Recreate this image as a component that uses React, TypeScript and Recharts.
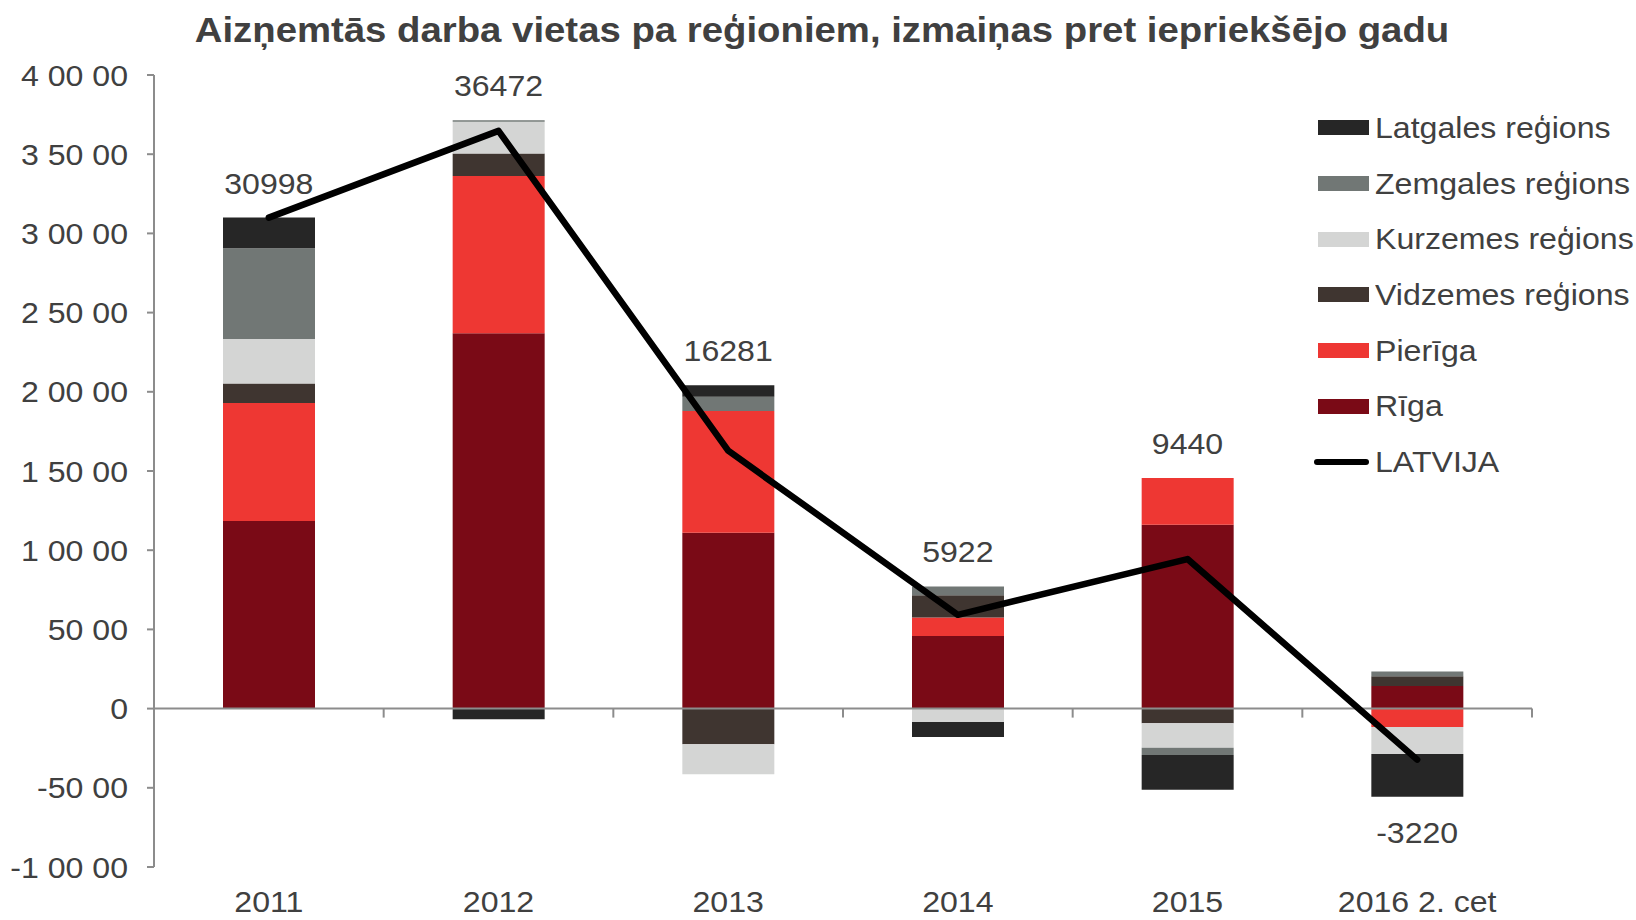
import React from "react"
import * as Recharts from "recharts"
import { ComposedChart, Bar, Line, XAxis, YAxis, ReferenceLine, LabelList } from "recharts"

const categories = ["2011", "2012", "2013", "2014", "2015", "2016 2. cet"]
const riga = [11850, 23700, 11100, 4590, 11600, 1420]
const pieriga = [7440, 9930, 7680, 1160, 2960, -1160]
const vidzeme = [1230, 1420, -2250, 1410, -920, 620]
const kurzeme = [2820, 2000, -1890, -840, -1550, -1700]
const zemgale = [5720, 100, 910, 550, -460, 300]
const latgale = [1940, -680, 730, -950, -2190, -2700]
const latvija = [30998, 36472, 16281, 5922, 9440, -3220]
const yTicks = [-10000, -5000, 0, 5000, 10000, 15000, 20000, 25000, 30000, 35000, 40000]

const series = [
  { key: "riga", name: "Rīga", color: "#7a0a16", values: riga },
  { key: "pieriga", name: "Pierīga", color: "#ee3733", values: pieriga },
  { key: "vidzeme", name: "Vidzemes reģions", color: "#3f3530", values: vidzeme },
  { key: "kurzeme", name: "Kurzemes reģions", color: "#d4d5d4", values: kurzeme },
  { key: "zemgale", name: "Zemgales reģions", color: "#717775", values: zemgale },
  { key: "latgale", name: "Latgales reģions", color: "#262626", values: latgale },
]

const data = categories.map((cat, i) => {
  const row: any = { cat, latvija: latvija[i] }
  let pos = 0
  let neg = 0
  series.forEach((s) => {
    row[s.key] = s.values[i]
    if (s.values[i] >= 0) pos += s.values[i]
    else neg += s.values[i]
  })
  // where the total label sits: end of the stack on the side of the total
  row.labelAt = latvija[i] >= 0 ? pos : neg
  return row
})

const FONT = "'Liberation Sans', Arial, sans-serif"
const TEXT = "#404040"
const STRETCH = 1.07

const formatTick = (v: number) => {
  if (v === 0) return "0"
  const s = String(Math.abs(v))
  const parts: string[] = []
  for (let end = s.length; end > 0; end -= 2) parts.unshift(s.slice(Math.max(0, end - 2), end))
  return (v < 0 ? "-" : "") + parts.join(" ")
}

// text a bit wider than the font, like the original
const WideText = ({ x, y, anchor, dy, children }: any) => (
  <g transform={`translate(${x},${y}) scale(${STRETCH},1)`}>
    <text x={0} y={0} dy={dy} textAnchor={anchor} fill={TEXT} fontSize={30} fontFamily={FONT}>
      {children}
    </text>
  </g>
)

const YTick = (props: any) => (
  <WideText x={props.x} y={props.y} anchor="end" dy="0.355em">
    {formatTick(props.payload.value)}
  </WideText>
)

const XTick = (props: any) => (
  <WideText x={props.x} y={props.y} anchor="middle" dy="0.71em">
    {props.payload.value}
  </WideText>
)

const ZeroTicks = () => {
  const usePA = (Recharts as any).usePlotArea
  const area = usePA ? usePA() : null
  if (!area) return null
  const band = area.width / categories.length
  const y0 = area.y + area.height * (40000 / 50000)
  return (
    <g>
      {categories.map((_, i) => (
        <line
          key={i}
          x1={area.x + band * (i + 1)}
          x2={area.x + band * (i + 1)}
          y1={y0}
          y2={y0 + 9}
          stroke="#8c8c8c"
          strokeWidth={2}
        />
      ))}
    </g>
  )
}

const TotalLabel = (props: any) => {
  const { x, y, index } = props
  const v = latvija[index]
  return (
    <WideText x={x} y={v >= 0 ? y - 24 : y + 46} anchor="middle" dy={0}>
      {v}
    </WideText>
  )
}

const legendItems = [...series].reverse()

export default function App() {
  return (
    <div style={{ position: "absolute", left: 0, top: 0, width: 1636, height: 920, background: "#fff", fontFamily: FONT }}>
      <div
        style={{
          position: "absolute",
          left: 822,
          top: 8,
          transform: `translateX(-50%) scale(1.095,1)`,
          fontWeight: "bold",
          fontSize: 35,
          color: TEXT,
          lineHeight: "44px",
          whiteSpace: "nowrap",
        }}
      >
        Aizņemtās darba vietas pa reģioniem, izmaiņas pret iepriekšējo gadu
      </div>
      <ComposedChart
        width={1636}
        height={920}
        data={data}
        stackOffset="sign"
        margin={{ top: 75, right: 104, left: 0, bottom: 0 }}
      >
        <XAxis
          dataKey="cat"
          axisLine={false}
          tickLine={false}
          tickSize={0}
          tickMargin={24}
          height={53}
          interval={0}
          tick={<XTick />}
        />
        <YAxis
          domain={[-10000, 40000]}
          ticks={yTicks}
          interval={0}
          width={154}
          axisLine={{ stroke: "#8c8c8c", strokeWidth: 2 }}
          tickLine={{ stroke: "#8c8c8c", strokeWidth: 2 }}
          tickSize={7}
          tickMargin={19}
          tick={<YTick />}
        />
        {series.map((s) => (
          <Bar key={s.key} dataKey={s.key} name={s.name} stackId="a" fill={s.color} barSize={92} isAnimationActive={false} />
        ))}
        <ReferenceLine y={0} stroke="#8c8c8c" strokeWidth={2} />
        <ZeroTicks />
        <Line
          dataKey="labelAt"
          stroke="none"
          dot={false}
          activeDot={false}
          legendType="none"
          isAnimationActive={false}
        >
          <LabelList dataKey="labelAt" content={<TotalLabel />} />
        </Line>
        <Line
          dataKey="latvija"
          name="LATVIJA"
          stroke="#000"
          strokeWidth={6.5}
          strokeLinecap="round"
          strokeLinejoin="round"
          dot={false}
          activeDot={false}
          isAnimationActive={false}
        />
      </ComposedChart>
      <div style={{ position: "absolute", left: 1314, top: 100 }}>
        {legendItems.map((s) => (
          <div key={s.key} style={{ display: "flex", alignItems: "center", height: 55.7 }}>
            <div style={{ width: 51, height: 15, background: s.color, marginLeft: 4, marginRight: 6 }} />
            <span style={{ fontSize: 30, color: TEXT, whiteSpace: "nowrap", display: "inline-block", transform: `scale(${STRETCH},1)`, transformOrigin: "left center" }}>
              {s.name}
            </span>
          </div>
        ))}
        <div style={{ display: "flex", alignItems: "center", height: 55.7 }}>
          <div style={{ width: 55, height: 6, background: "#000", borderRadius: 3, marginRight: 6 }} />
          <span style={{ fontSize: 30, color: TEXT, display: "inline-block", transform: `scale(${STRETCH},1)`, transformOrigin: "left center" }}>
            LATVIJA
          </span>
        </div>
      </div>
    </div>
  )
}
